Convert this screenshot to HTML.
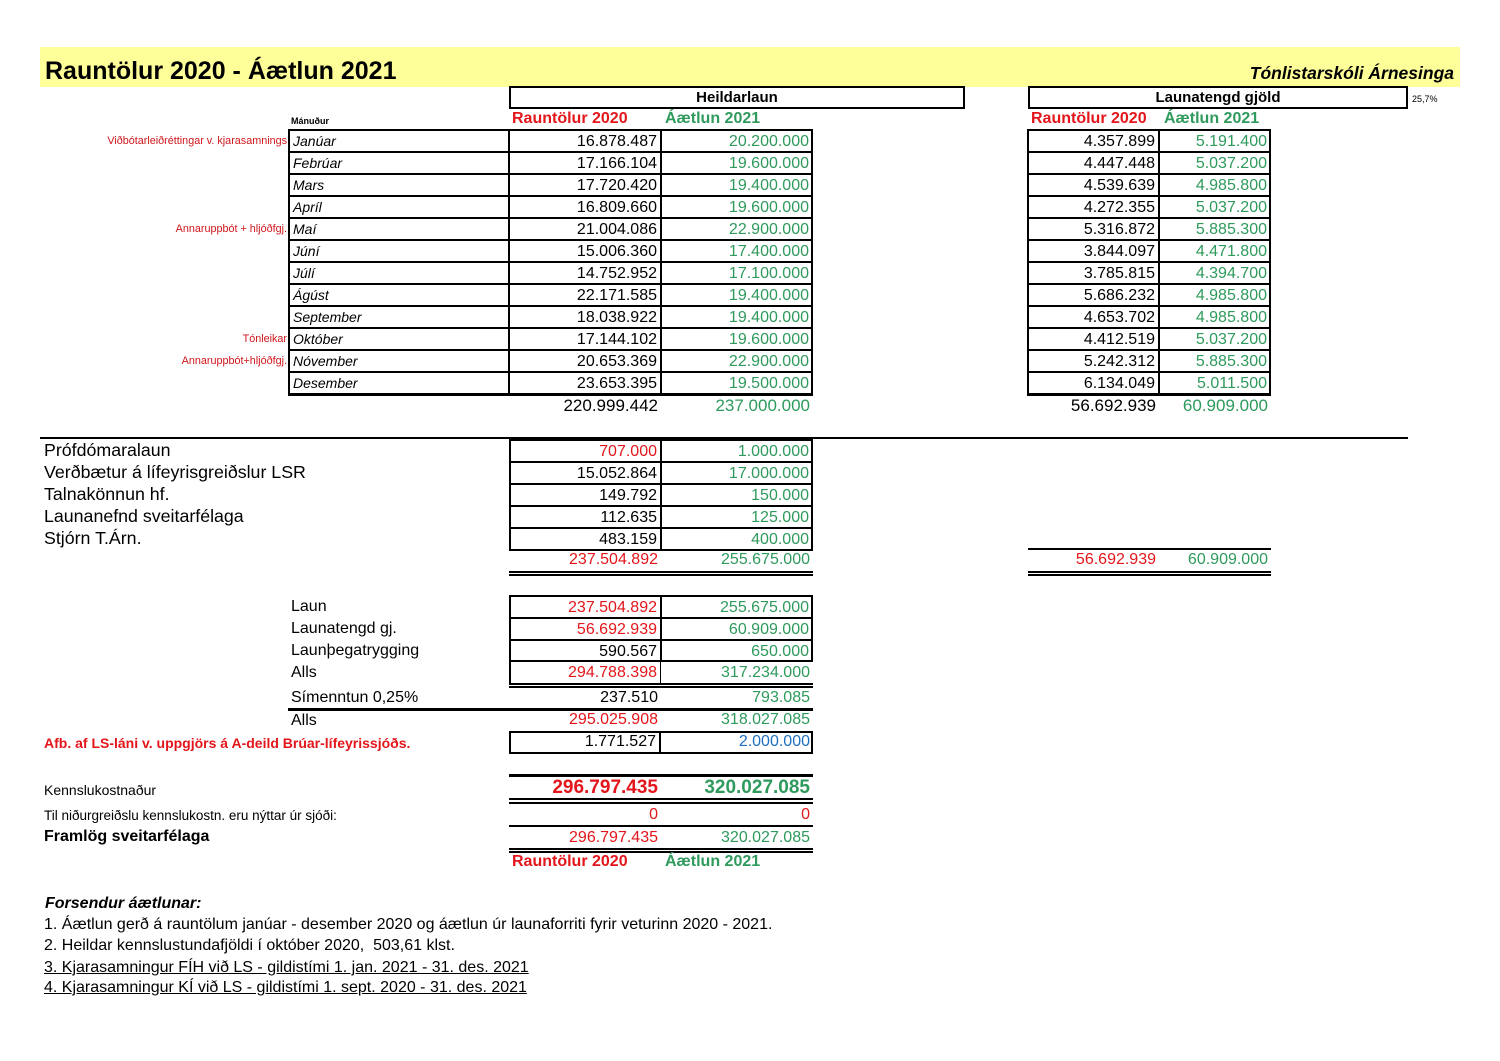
<!DOCTYPE html>
<html><head><meta charset="utf-8"><style>
body{margin:0;width:1500px;height:1061px;background:#fff;position:relative;font-family:"Liberation Sans",Arial,sans-serif;overflow:hidden}
div{position:absolute;box-sizing:border-box;white-space:nowrap}
.c{height:22px;line-height:22px;border:1px solid #000;font-size:16px;text-align:right;padding-right:3px}
.n{height:22px;line-height:22px;font-size:16px;text-align:right;padding-right:3px}
.m{height:22px;line-height:21px;border:1px solid #000;font-size:14px;font-style:italic;padding-left:4px;left:288px;width:221px}
.R{color:#e3161b}.G{color:#2e9a5c}.B{color:#1f6fc0}
.l{font-size:17.8px;left:44px;height:22px;line-height:22px}
.l2{font-size:16px;left:291px;height:22px;line-height:22px}
.note{font-size:10.8px;color:#d0161b;text-align:right;right:1213px;height:22px;line-height:22px}
.h{font-size:16px;font-weight:bold;height:22px;line-height:22px}
.hl{height:2px;background:#000}
</style></head><body>
<div style="left:40px;top:47px;width:1420px;height:40px;background:#ffff99"></div>
<div style="left:45px;top:56px;font-size:25px;font-weight:bold;line-height:30px">Rauntölur 2020 - Áætlun 2021</div>
<div style="right:46px;top:62px;font-size:17.5px;font-weight:bold;font-style:italic;line-height:22px">Tónlistarskóli Árnesinga</div>

<div style="left:509px;top:86px;width:456px;height:23px;border:2px solid #000;text-align:center;font-size:15px;font-weight:bold;line-height:19px">Heildarlaun</div>
<div style="left:1028px;top:86px;width:380px;height:23px;border:2px solid #000;text-align:center;font-size:15px;font-weight:bold;line-height:19px">Launatengd gjöld</div>
<div style="left:1412px;top:92px;font-size:9px;line-height:14px">25,7%</div>

<div style="left:291px;top:111px;font-size:9px;font-weight:bold;line-height:20px">Mánuður</div>
<div class="h R" style="left:512px;top:108px">Rauntölur 2020</div>
<div class="h G" style="left:665px;top:108px">Áætlun 2021</div>
<div class="h R" style="left:1031px;top:108px">Rauntölur 2020</div>
<div class="h G" style="left:1164px;top:108px">Áætlun 2021</div>

<div class="note" style="top:130px">Viðbótarleiðréttingar v. kjarasamnings</div>
<div class="note" style="top:218px">Annaruppbót + hljóðfgj.</div>
<div class="note" style="top:328px">Tónleikar</div>
<div class="note" style="top:350px">Annaruppbót+hljóðfgj.</div>

<div style="left:288px;top:129px;width:525px;height:267px;border:2px solid #000"></div>
<div style="left:1027px;top:129px;width:244px;height:267px;border:2px solid #000"></div>

<div class="m" style="top:130px">Janúar</div><div class="c" style="left:509px;width:152px;top:130px">16.878.487</div><div class="c G" style="left:661px;width:152px;top:130px">20.200.000</div><div class="c" style="left:1028px;width:131px;top:130px">4.357.899</div><div class="c G" style="left:1159px;width:112px;top:130px">5.191.400</div>
<div class="m" style="top:152px">Febrúar</div><div class="c" style="left:509px;width:152px;top:152px">17.166.104</div><div class="c G" style="left:661px;width:152px;top:152px">19.600.000</div><div class="c" style="left:1028px;width:131px;top:152px">4.447.448</div><div class="c G" style="left:1159px;width:112px;top:152px">5.037.200</div>
<div class="m" style="top:174px">Mars</div><div class="c" style="left:509px;width:152px;top:174px">17.720.420</div><div class="c G" style="left:661px;width:152px;top:174px">19.400.000</div><div class="c" style="left:1028px;width:131px;top:174px">4.539.639</div><div class="c G" style="left:1159px;width:112px;top:174px">4.985.800</div>
<div class="m" style="top:196px">Apríl</div><div class="c" style="left:509px;width:152px;top:196px">16.809.660</div><div class="c G" style="left:661px;width:152px;top:196px">19.600.000</div><div class="c" style="left:1028px;width:131px;top:196px">4.272.355</div><div class="c G" style="left:1159px;width:112px;top:196px">5.037.200</div>
<div class="m" style="top:218px">Maí</div><div class="c" style="left:509px;width:152px;top:218px">21.004.086</div><div class="c G" style="left:661px;width:152px;top:218px">22.900.000</div><div class="c" style="left:1028px;width:131px;top:218px">5.316.872</div><div class="c G" style="left:1159px;width:112px;top:218px">5.885.300</div>
<div class="m" style="top:240px">Júní</div><div class="c" style="left:509px;width:152px;top:240px">15.006.360</div><div class="c G" style="left:661px;width:152px;top:240px">17.400.000</div><div class="c" style="left:1028px;width:131px;top:240px">3.844.097</div><div class="c G" style="left:1159px;width:112px;top:240px">4.471.800</div>
<div class="m" style="top:262px">Júlí</div><div class="c" style="left:509px;width:152px;top:262px">14.752.952</div><div class="c G" style="left:661px;width:152px;top:262px">17.100.000</div><div class="c" style="left:1028px;width:131px;top:262px">3.785.815</div><div class="c G" style="left:1159px;width:112px;top:262px">4.394.700</div>
<div class="m" style="top:284px">Ágúst</div><div class="c" style="left:509px;width:152px;top:284px">22.171.585</div><div class="c G" style="left:661px;width:152px;top:284px">19.400.000</div><div class="c" style="left:1028px;width:131px;top:284px">5.686.232</div><div class="c G" style="left:1159px;width:112px;top:284px">4.985.800</div>
<div class="m" style="top:306px">September</div><div class="c" style="left:509px;width:152px;top:306px">18.038.922</div><div class="c G" style="left:661px;width:152px;top:306px">19.400.000</div><div class="c" style="left:1028px;width:131px;top:306px">4.653.702</div><div class="c G" style="left:1159px;width:112px;top:306px">4.985.800</div>
<div class="m" style="top:328px">Október</div><div class="c" style="left:509px;width:152px;top:328px">17.144.102</div><div class="c G" style="left:661px;width:152px;top:328px">19.600.000</div><div class="c" style="left:1028px;width:131px;top:328px">4.412.519</div><div class="c G" style="left:1159px;width:112px;top:328px">5.037.200</div>
<div class="m" style="top:350px">Nóvember</div><div class="c" style="left:509px;width:152px;top:350px">20.653.369</div><div class="c G" style="left:661px;width:152px;top:350px">22.900.000</div><div class="c" style="left:1028px;width:131px;top:350px">5.242.312</div><div class="c G" style="left:1159px;width:112px;top:350px">5.885.300</div>
<div class="m" style="top:372px">Desember</div><div class="c" style="left:509px;width:152px;top:372px">23.653.395</div><div class="c G" style="left:661px;width:152px;top:372px">19.500.000</div><div class="c" style="left:1028px;width:131px;top:372px">6.134.049</div><div class="c G" style="left:1159px;width:112px;top:372px">5.011.500</div>

<div class="n" style="left:509px;width:152px;top:395px;font-size:17px">220.999.442</div>
<div class="n G" style="left:661px;width:152px;top:395px;font-size:17px">237.000.000</div>
<div class="n" style="left:1028px;width:131px;top:395px;font-size:17px">56.692.939</div>
<div class="n G" style="left:1159px;width:112px;top:395px;font-size:17px">60.909.000</div>

<div class="hl" style="left:40px;top:437px;width:1368px"></div>

<div class="l" style="top:439px">Prófdómaralaun</div>
<div class="l" style="top:461px">Verðbætur á lífeyrisgreiðslur LSR</div>
<div class="l" style="top:483px">Talnakönnun hf.</div>
<div class="l" style="top:505px">Launanefnd sveitarfélaga</div>
<div class="l" style="top:527px">Stjórn T.Árn.</div>
<div style="left:509px;top:439px;width:304px;height:112px;border:2px solid #000"></div>
<div class="c R" style="left:509px;width:152px;top:440px">707.000</div><div class="c G" style="left:661px;width:152px;top:440px">1.000.000</div>
<div class="c" style="left:509px;width:152px;top:462px">15.052.864</div><div class="c G" style="left:661px;width:152px;top:462px">17.000.000</div>
<div class="c" style="left:509px;width:152px;top:484px">149.792</div><div class="c G" style="left:661px;width:152px;top:484px">150.000</div>
<div class="c" style="left:509px;width:152px;top:506px">112.635</div><div class="c G" style="left:661px;width:152px;top:506px">125.000</div>
<div class="c" style="left:509px;width:152px;top:528px">483.159</div><div class="c G" style="left:661px;width:152px;top:528px">400.000</div>
<div class="n R" style="left:509px;width:152px;top:549px">237.504.892</div><div class="n G" style="left:661px;width:152px;top:549px">255.675.000</div>
<div class="hl" style="left:509px;top:571px;width:304px"></div><div class="hl" style="left:509px;top:574px;width:304px"></div>
<div class="hl" style="left:1028px;top:548px;width:243px"></div>
<div class="n R" style="left:1028px;width:131px;top:549px">56.692.939</div><div class="n G" style="left:1159px;width:112px;top:549px">60.909.000</div>
<div class="hl" style="left:1028px;top:571px;width:243px"></div><div class="hl" style="left:1028px;top:574px;width:243px"></div>

<div class="l2" style="top:596px">Laun</div>
<div class="l2" style="top:618px">Launatengd gj.</div>
<div class="l2" style="top:640px">Launþegatrygging</div>
<div class="l2" style="top:662px">Alls</div>
<div class="l2" style="top:687px">Símenntun 0,25%</div>
<div class="l2" style="top:710px">Alls</div>
<div style="left:509px;top:595px;width:304px;height:67px;border:2px solid #000"></div>
<div class="c R" style="left:509px;width:152px;top:596px">237.504.892</div><div class="c G" style="left:661px;width:152px;top:596px">255.675.000</div>
<div class="c R" style="left:509px;width:152px;top:618px">56.692.939</div><div class="c G" style="left:661px;width:152px;top:618px">60.909.000</div>
<div class="c" style="left:509px;width:152px;top:640px">590.567</div><div class="c G" style="left:661px;width:152px;top:640px">650.000</div>
<div class="n R" style="left:509px;width:152px;top:662px;border-left:2px solid #000;border-right:1px solid #000">294.788.398</div><div class="n G" style="left:661px;width:152px;top:662px">317.234.000</div>
<div class="hl" style="left:509px;top:683px;width:304px"></div><div class="hl" style="left:509px;top:686px;width:304px"></div>
<div class="n" style="left:509px;width:152px;top:687px">237.510</div><div class="n G" style="left:661px;width:152px;top:687px">793.085</div>
<div style="left:288px;top:708px;width:525px;height:3px;background:#000"></div>
<div class="n R" style="left:509px;width:152px;top:709px">295.025.908</div><div class="n G" style="left:661px;width:152px;top:709px">318.027.085</div>
<div style="left:44px;top:732px;font-size:14px;font-weight:bold;color:#e3161b;line-height:22px">Afb. af LS-láni v. uppgjörs á A-deild Brúar-lífeyrissjóðs.</div>
<div style="left:509px;top:731px;width:304px;height:23px;border:2px solid #000"></div>
<div class="c" style="left:509px;width:152px;top:731px;border:none;border-right:2px solid #000">1.771.527</div><div class="n B" style="left:661px;width:152px;top:731px">2.000.000</div>

<div style="left:509px;top:774px;width:304px;height:3px;background:#000"></div>
<div style="left:44px;top:779px;font-size:14px;line-height:22px">Kennslukostnaður</div>
<div class="n R" style="left:509px;width:152px;top:777px;font-size:19px;font-weight:bold">296.797.435</div>
<div class="n G" style="left:661px;width:152px;top:777px;font-size:19px;font-weight:bold">320.027.085</div>
<div class="hl" style="left:509px;top:798px;width:304px"></div><div class="hl" style="left:509px;top:802px;width:304px"></div>
<div style="left:44px;top:805px;font-size:13.5px;line-height:22px">Til niðurgreiðslu kennslukostn. eru nýttar úr sjóði:</div>
<div class="n R" style="left:509px;width:152px;top:804px">0</div><div class="n R" style="left:661px;width:152px;top:804px">0</div>
<div class="hl" style="left:509px;top:825px;width:304px"></div>
<div style="left:44px;top:826px;font-size:16px;font-weight:bold;line-height:22px">Framlög sveitarfélaga</div>
<div class="n R" style="left:509px;width:152px;top:827px">296.797.435</div><div class="n G" style="left:661px;width:152px;top:827px">320.027.085</div>
<div class="hl" style="left:509px;top:848px;width:304px"></div><div class="hl" style="left:509px;top:851px;width:304px"></div>
<div class="h R" style="left:512px;top:851px">Rauntölur 2020</div>
<div class="h G" style="left:665px;top:851px">Áætlun 2021</div>

<div style="left:45px;top:894px;font-size:16px;font-weight:bold;font-style:italic;line-height:20px">Forsendur áætlunar:</div>
<div style="left:44px;top:915px;font-size:16px;line-height:20px">1. Áætlun gerð á rauntölum janúar - desember 2020 og áætlun úr launaforriti fyrir veturinn 2020 - 2021.</div>
<div style="left:44px;top:936px;font-size:16px;line-height:20px">2. Heildar kennslustundafjöldi í október 2020,&nbsp; 503,61 klst.</div>
<div style="left:44px;top:958px;font-size:16px;line-height:20px;text-decoration:underline">3. Kjarasamningur FÍH við LS - gildistími 1. jan. 2021 - 31. des. 2021</div>
<div style="left:44px;top:978px;font-size:16px;line-height:20px;text-decoration:underline">4. Kjarasamningur KÍ við LS - gildistími 1. sept. 2020 - 31. des. 2021</div>
</body></html>
